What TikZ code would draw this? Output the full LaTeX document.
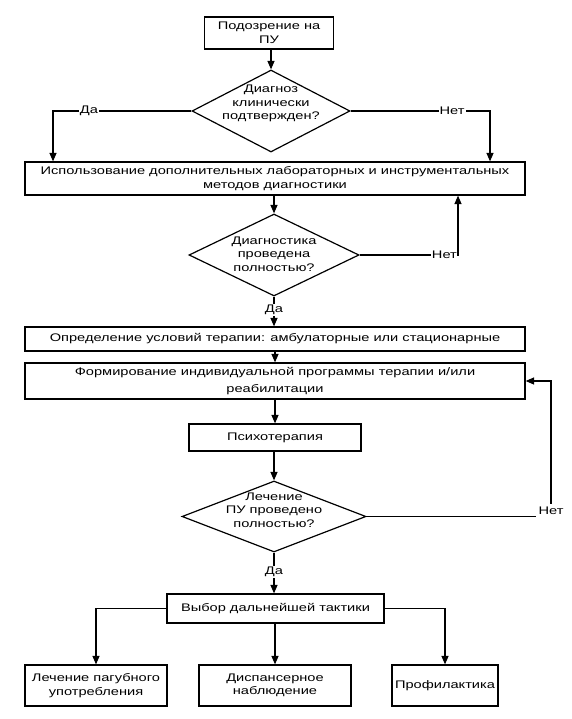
\documentclass[tikz,border=0pt]{standalone}
\usepackage{fontspec}
\setmainfont[FakeStretch=1.33]{Liberation Sans}
\usetikzlibrary{arrows.meta,shapes.geometric}
\begin{document}
\begin{tikzpicture}[x=1pt,y=-1pt,
 box/.style={draw, line width=1.2pt, rectangle, inner sep=0pt, align=center, font=\fontsize{11}{13.5}\selectfont},
 dia/.style={draw, line width=1.2pt, diamond, inner sep=0pt},
 txt/.style={align=center, inner sep=0pt, font=\fontsize{11}{13.5}\selectfont},
 arr/.style={line width=1.2pt, -{Triangle[length=8.5pt,width=7pt]}},
 lab/.style={fill=white, inner sep=1pt, font=\fontsize{11}{13}\selectfont}
]
\useasboundingbox (0,0) rectangle (571,719);
\node[box, minimum width=129pt, minimum height=32pt] (b1) at (269,33) {Подозрение на\\ПУ};
\node[dia, minimum width=158pt, minimum height=82pt] (d1) at (271,111) {};
\node[txt] (t1) at (271,103.5) {Диагноз\\клинически\\подтвержден?};
\node[box, minimum width=500pt, minimum height=33pt] (b2) at (275,178.5) {Использование дополнительных лабораторных и инструментальных\\методов диагностики};
\node[dia, minimum width=170pt, minimum height=82pt] (d2) at (274,255) {};
\node[txt] (t2) at (274,254) {Диагностика\\проведена\\полностью?};
\node[box, minimum width=500pt, minimum height=24pt] (b3) at (275,339) {Определение условий терапии: амбулаторные или стационарные};
\node[box, minimum width=500pt, minimum height=36pt] (b4) at (275,381) {Формирование индивидуальной программы терапии и/или\\[3pt]реабилитации};
\node[box, minimum width=172pt, minimum height=27pt] (b5) at (275,437.5) {Психотерапия};
\node[dia, minimum width=184pt, minimum height=71pt] (d3) at (274,516.5) {};
\node[txt] (t3) at (274,510) {Лечение\\ПУ проведено\\полностью?};
\node[box, minimum width=217pt, minimum height=29pt] (b6) at (275.5,608.5) {Выбор дальнейшей тактики};
\node[box, minimum width=142pt, minimum height=41pt] (b7) at (96,685.5) {Лечение пагубного\\употребления};
\node[box, minimum width=152pt, minimum height=41pt] (b8) at (275,685.5) {Диспансерное\\наблюдение};
\node[box, minimum width=106pt, minimum height=41pt] (b9) at (445,685.5) {Профилактика};
\coordinate (yx) at (53,0);
\coordinate (nx) at (490,0);
\coordinate (n2x) at (458,0);
\coordinate (n3x) at (551,0);
\draw[arr] (d1.north |- b1.south) -- (d1.north);
\draw[arr] (d1.west) -| node[lab, pos=0.37] (ly1) {Да} (b2.north -| yx);
\draw[arr] (d1.east) -| node[lab, pos=0.364] (ln1) {Нет} (b2.north -| nx);
\draw[arr] (b2.south -| d2.north) -- (d2.north);
\draw[arr] (d2.east) -- (d2.east -| n2x) node[lab, anchor=east, inner sep=0.5pt] (ln2) {Нет} -- (b2.south -| n2x);
\draw[arr] (d2.south) -- node[lab, pos=0.45] (ly2) {Да} (b3.north -| d2.south);
\draw[arr] (b3.south) -- (b4.north);
\draw[arr] (b4.south) -- (b5.north);
\draw[arr] (b5.south -| d3.north) -- (d3.north);
\draw[arr] (d3.east) -- (d3.east -| n3x) -- (b4.east -| n3x) -- (b4.east);
\node[lab, inner sep=3pt, yshift=6pt] (ln3) at (d3.east -| n3x) {Нет};
\draw[arr] (d3.south) -- node[lab, pos=0.48] (ly3) {Да} (b6.north -| d3.south);
\draw[arr] (b6.west) -| (b7.north);
\draw[arr] (b6.south -| b8.north) -- (b8.north);
\draw[arr] (b6.east) -| (b9.north);
\end{tikzpicture}
\end{document}
